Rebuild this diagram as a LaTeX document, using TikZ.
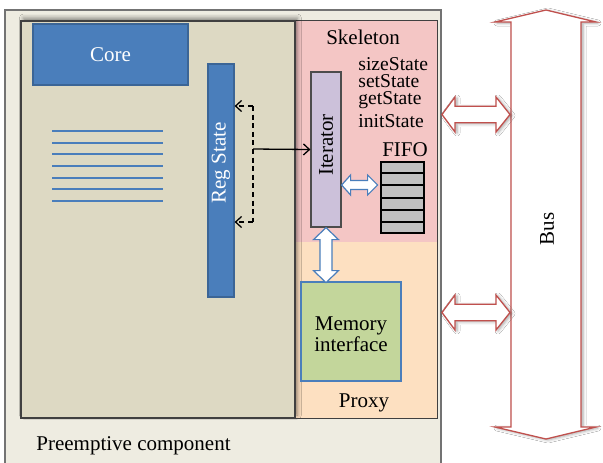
\documentclass[tikz,border=0pt]{standalone}
\usepackage{fontspec}
\setmainfont{Liberation Serif}
\usetikzlibrary{arrows.meta,calc,fit,shadows.blur}

\definecolor{paper}{HTML}{EEECE1}
\definecolor{tanfill}{HTML}{DDD9C3}
\definecolor{skelfill}{HTML}{F4C6C5}
\definecolor{proxyfill}{HTML}{FDE0C1}
\definecolor{blockblue}{HTML}{4A7EBB}
\definecolor{iterfill}{HTML}{CCC1DA}
\definecolor{memfill}{HTML}{C3D69B}
\definecolor{fifofill}{HTML}{C0C0C0}
\definecolor{busred}{HTML}{C0504D}

\tikzset{
  area/.style={inner sep=0pt, line width=0.6pt},
  block/.style={area, fill=blockblue, draw=blockblue!80!black},
  txt/.style={inner sep=0pt},
  link/.style={line width=0.65pt, black},
  fat/.style={fill=white, draw=blockblue, line width=0.6pt, line join=miter},
  busarrow/.style={fill=white, draw=busred, line width=0.65pt, line join=miter,
    blur shadow={shadow xshift=1pt, shadow yshift=-0.5pt, shadow blur radius=1.5pt, shadow opacity=35}},
}

\begin{document}
\begin{tikzpicture}[x=0.5pt, y=-0.5pt, font=\fontsize{10.5}{10.5}\selectfont,
  >={Straight Barb[length=3pt, width=5.5pt]}]

  \fill[white] (0,0) rectangle (603,462);
  \clip (0,0) rectangle (603,462);

  % Outer component frame
  \node[fit={(5,10)(441,475)}, area, fill=paper, draw=black!55] (comp) {};
  \node[txt, anchor=base west] (complabel) at (36,450) {Preemptive component};

  % Skeleton and proxy strip
  \node[fit={(295,21)(437,242)}, area, fill=skelfill] (skel) {};
  \node[fit={(295,242)(437,418)}, area, fill=proxyfill] (proxy) {};
  \draw[black!75, line width=0.6pt] (skel.north west) rectangle (proxy.south east);
  \node[txt, anchor=base] (skellabel) at (363,44) {Skeleton};
  \node[txt, anchor=base] (proxylabel) at (364,407) {Proxy};

  % Application area with a soft shadow
  \node[fit={(21,21)(295,418)}, area, fill=tanfill, draw=black!75,
    blur shadow={shadow xshift=1.2pt, shadow yshift=1.5pt, shadow blur radius=2pt, shadow opacity=45}] (app) {};

  % Core and register file
  \node[fit={(33,24)(188,85)}, block] (core) {};
  \node[text=white] (corelabel) at (core.center) {Core};
  \foreach \y in {131,143,154,166,178,189,201}
    \draw[blockblue, line width=0.8pt] (52,\y) -- (163,\y);
  \node[fit={(208,64)(234,297)}, block] (reg) {};
  \node[rotate=90, text=white] (reglabel) at (221,163) {Reg State};

  % State methods, one block of lines
  \node[txt, anchor=north west, align=left, font=\fontsize{9.8}{8.5}\selectfont] (methods) at (358,57)
    {sizeState\\setState\\getState\\[2pt]initState};

  % Iterator, FIFO, memory interface
  \node[fit={(311,72)(341,227)}, area, fill=iterfill, draw=black!70] (iter) {};
  \node[rotate=90] (iterlabel) at (326,145) {Iterator};

  \node[txt, anchor=base] (fifolabel) at (405,156) {FIFO};
  \node[fit={(381,162)(424,233)}, area, fill=fifofill, draw=black, line width=1pt] (fifo) {};
  \foreach \i in {1,...,5}
    \draw[black, line width=1pt] ($(fifo.north west)!\i/6!(fifo.south west)$) -- ($(fifo.north east)!\i/6!(fifo.south east)$);

  \node[fit={(301,282)(401,381)}, area, fill=memfill, draw=blockblue] (mem) {};
  \node[align=center] (memlabel) at ($(mem.center)+(0,3)$) {Memory\\interface};

  % Register state tap to the iterator
  \coordinate (tap) at (253,149);
  \coordinate (dtop) at (253,106);
  \coordinate (dbot) at (253,222);
  \draw[link, ->] (tap) -- (iter.west);
  \draw[link, dash pattern=on 2.5pt off 1.8pt] (dtop) -- (dbot);
  \draw[link, dash pattern=on 2.5pt off 1.8pt, ->] (dtop) -- (reg.east |- dtop);
  \draw[link, dash pattern=on 2.5pt off 1.8pt, ->] (dbot) -- (reg.east |- dbot);

  % Wide two-way arrows
  \draw[fat] ($(iter.east)+(0,35.5)$) -- ++(9,-10) -- ++(0,5.5) -- ++(17,0) -- ++(0,-5.5)
    -- ++(10,10) -- ++(-10,10) -- ++(0,-5.5) -- ++(-17,0) -- ++(0,5.5) -- cycle;
  \draw[fat] (iter.south) -- ++(12.5,12) -- ++(-6.5,0) -- ++(0,31) -- ++(6.5,0)
    -- ++(-12.5,12) -- ++(-12.5,-12) -- ++(6.5,0) -- ++(0,-31) -- ++(-6.5,0) -- cycle;

  % Bus
  \draw[busarrow] (546,10) -- (596,22) -- (581,22) -- (581,427) -- (596,427) -- (546,439)
    -- (495,427) -- (511,427) -- (511,22) -- (495,22) -- cycle;
  \node[rotate=90] (buslabel) at (547,229) {Bus};
  \foreach \y in {114.5,312.5}
    \draw[busarrow] (442,\y) -- ++(13,-17.5) -- ++(0,9.2) -- ++(41,0) -- ++(0,-9.2) -- ++(14,17.5)
      -- ++(-14,17.5) -- ++(0,-9.2) -- ++(-41,0) -- ++(0,9.2) -- cycle;

\end{tikzpicture}
\end{document}
